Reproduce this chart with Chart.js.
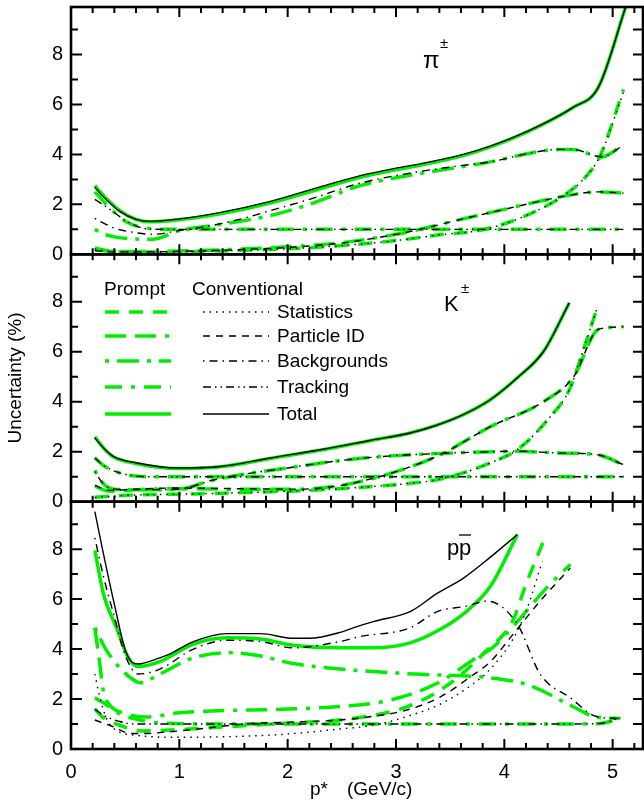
<!DOCTYPE html>
<html><head><meta charset="utf-8">
<script src="https://cdn.jsdelivr.net/npm/chart.js@4/dist/chart.umd.min.js"></script>
<style>html,body{margin:0;padding:0;background:#fff}#wrap{position:relative;width:644px;height:803px}</style>
</head><body><div id="wrap"><canvas id="c" width="644" height="803"></canvas></div>
<script>
// ---------- tick labels ----------
const xTickVals = [0, 1, 2, 3, 4, 5];
const yTickVals = [0, 2, 4, 6, 8];
const panelNames = ['π', 'K', 'p'];
const legendLabels = ['Statistics', 'Particle ID', 'Backgrounds', 'Tracking', 'Total'];

// ---------- panel 1 : pi ----------
const piStatX = [0.22,0.3,0.4,0.55,0.7,1.0,1.5,2.0,2.5,3.0,3.4,3.8,4.2,4.58,4.75,4.88,5.1];
const piStatConv = [0.22,0.15,0.11,0.09,0.08,0.1,0.15,0.22,0.35,0.55,0.78,0.98,1.55,2.45,3.1,3.9,6.5];
const piStatPrompt = [0.25,0.17,0.12,0.1,0.09,0.1,0.15,0.22,0.35,0.55,0.78,0.98,1.55,2.45,3.1,3.9,6.6];
const piPidX = [0.22,0.4,0.7,1.0,1.5,2.0,2.5,3.0,3.22,3.6,4.0,4.3,4.58,4.87,5.1];
const piPidConv = [0.15,0.1,0.1,0.12,0.18,0.28,0.45,0.8,1.0,1.4,1.8,2.1,2.35,2.5,2.45];
const piPidPrompt = [0.18,0.12,0.11,0.13,0.2,0.3,0.47,0.8,1.0,1.4,1.8,2.1,2.35,2.5,2.45];
const piBkgX = [0.22,0.3,0.4,0.55,0.75,1.0,1.3,1.6,1.84,2.2,2.67,3.2,3.6,3.87,4.26,4.5,4.63,4.9,5.1];
const piBkgConv = [1.44,1.25,1.05,0.9,0.8,0.95,1.15,1.45,1.75,2.2,2.85,3.3,3.55,3.7,4.07,4.2,4.2,3.9,4.37];
const piBkgPrompt = [1.0,0.82,0.7,0.62,0.6,0.95,1.15,1.35,1.55,2.0,2.75,3.22,3.5,3.7,4.07,4.2,4.2,3.9,4.4];
const piTrkX = [0.22,0.36,0.51,0.7,0.9,1.5,2.5,3.5,4.5,5.1];
const piTrkConv = [2.2,1.8,1.33,1.02,1.0,1.0,1.0,1.0,1.0,1.0];
const piTrkPrompt = [2.5,1.85,1.3,1.05,1.0,1.0,1.0,1.0,1.0,1.0];
const piTotX = [0.22,0.3,0.45,0.6,0.73,1.0,1.38,1.84,2.3,2.67,3.0,3.22,3.62,3.87,4.2,4.63,4.87,5.12];
const piTotConv = [2.68,2.3,1.72,1.4,1.32,1.42,1.68,2.12,2.7,3.15,3.45,3.62,4.0,4.33,4.9,5.87,6.7,9.9];
const piTotPrompt = [2.75,2.35,1.75,1.4,1.3,1.38,1.62,2.05,2.62,3.08,3.38,3.56,3.95,4.3,4.88,5.87,6.7,9.9];

// ---------- panel 2 : K ----------
const kStatX = [0.22,0.5,1.0,1.5,2.0,2.4,2.76,3.1,3.38,3.62,3.87,4.12,4.4,4.6,4.73,4.86];
const kStatConv = [0.16,0.25,0.3,0.35,0.42,0.5,0.6,0.72,0.88,1.15,1.55,2.08,3.28,4.48,6.08,7.8];
const kStatPrompt = [0.18,0.26,0.3,0.35,0.42,0.5,0.6,0.72,0.88,1.15,1.55,2.08,3.28,4.48,6.08,7.8];
const kPidX = [0.22,0.35,0.6,1.0,1.5,2.1,2.45,2.76,3.0,3.41,3.87,4.36,4.64,4.87,5.1];
const kPidConv = [0.65,0.45,0.5,0.55,0.52,0.5,0.62,0.9,1.2,1.88,3.0,4.0,5.0,6.9,7.0];
const kPidPrompt = [0.62,0.42,0.48,0.52,0.5,0.5,0.62,0.9,1.2,1.88,3.0,4.0,5.0,6.9,7.0];
const kBkgX = [0.22,0.3,0.4,0.6,0.8,1.0,1.3,1.6,2.0,2.4,2.85,3.4,3.9,4.12,4.5,4.86,5.1];
const kBkgConv = [1.2,0.7,0.5,0.48,0.48,0.5,0.85,1.1,1.35,1.6,1.8,1.93,2.0,2.02,1.95,1.88,1.48];
const kBkgPrompt = [1.25,0.72,0.5,0.48,0.48,0.5,0.85,1.1,1.35,1.6,1.8,1.93,2.0,2.02,1.95,1.88,1.48];
const kTrkX = [0.22,0.3,0.45,0.7,1.0,2.0,3.0,4.0,5.1];
const kTrkConv = [1.75,1.45,1.15,1.0,1.0,1.0,1.0,1.0,1.0];
const kTrkPrompt = [1.75,1.45,1.15,1.0,1.0,1.0,1.0,1.0,1.0];
const kTotX = [0.22,0.3,0.39,0.61,0.98,1.38,1.84,2.3,2.76,3.13,3.37,3.62,3.87,4.12,4.36,4.6];
const kTotConv = [2.55,2.15,1.81,1.55,1.35,1.41,1.75,2.08,2.45,2.75,3.05,3.48,4.08,4.96,6.0,7.96];
const kTotPrompt = [2.6,2.15,1.8,1.52,1.33,1.4,1.73,2.06,2.44,2.75,3.05,3.48,4.08,4.96,6.0,7.96];

// ---------- panel 3 : p pbar ----------
const pStatConvX = [0.22,0.27,0.33,0.4,0.6,1.0,1.5,2.0,2.48,2.79,3.1,3.41,3.71,3.87,4.08,4.2,4.35];
const pStatConv = [3.0,2.0,1.2,0.8,0.55,0.47,0.5,0.6,0.8,0.95,1.3,1.8,2.6,3.2,4.4,5.5,7.5];
const pStatPromptX = [0.22,0.3,0.45,0.65,1.0,1.28,2.05,2.48,3.1,3.5,3.81,4.08,4.2,4.36];
const pStatPrompt = [1.6,1.25,0.95,0.72,0.78,0.85,1.05,1.16,1.69,2.63,3.83,5.16,6.6,8.3];
const pPidConvX = [0.22,0.39,0.55,0.7,0.91,1.22,1.59,2.15,2.48,2.76,3.1,3.41,3.71,3.87,4.08,4.33,4.61];
const pPidConv = [1.16,0.89,0.62,0.62,0.69,0.82,1.0,1.09,1.16,1.29,1.56,2.09,2.96,3.49,4.59,5.92,7.25];
const pPidPromptX = [0.22,0.26,0.3,0.36,0.48,0.7,1.0,1.3,2.0,2.48,2.95,3.38,3.71,3.9,4.08,4.39,4.61];
const pPidPrompt = [4.85,3.6,2.3,1.75,1.45,1.28,1.45,1.52,1.6,1.7,1.96,2.63,3.56,4.09,4.9,6.45,7.39];
const pBkgConvX = [0.22,0.3,0.4,0.5,0.62,0.82,1.13,1.44,1.75,2.05,2.48,2.67,3.13,3.38,3.65,3.84,4.12,4.33,4.61,4.85,5.07];
const pBkgConv = [8.45,6.9,5.3,3.75,3.0,3.2,4.0,4.35,4.3,4.05,4.3,4.5,4.85,5.5,5.72,5.92,5.0,3.0,2.05,1.3,1.22];
const pBkgPromptX = [0.22,0.32,0.42,0.55,0.64,0.82,1.13,1.47,1.75,2.05,2.48,3.17,3.87,4.23,4.61,4.85,5.07];
const pBkgPrompt = [4.85,4.0,3.4,2.85,2.65,3.0,3.65,3.85,3.72,3.42,3.2,3.0,2.85,2.55,1.75,1.28,1.22];
const pTrkX = [0.22,0.3,0.45,0.6,0.8,1.5,2.5,3.5,4.5,4.88,5.07];
const pTrkConv = [1.6,1.35,1.1,1.0,1.0,1.0,1.0,1.0,1.0,1.02,1.25];
const pTrkPrompt = [2.05,1.85,1.4,1.2,1.05,1.0,1.0,1.0,1.0,1.02,1.22];
const pTotConvX = [0.22,0.3,0.4,0.51,0.62,0.82,0.91,1.13,1.44,1.75,2.05,2.2,2.51,2.64,2.79,3.13,3.38,3.62,3.84,4.12];
const pTotConv = [9.5,7.8,5.8,3.85,3.4,3.65,3.8,4.3,4.62,4.62,4.43,4.43,4.7,4.9,5.1,5.5,6.23,6.83,7.57,8.58];
const pTotPromptX = [0.22,0.3,0.42,0.53,0.62,0.82,1.13,1.44,1.75,2.05,2.48,2.79,3.13,3.38,3.62,3.87,4.12];
const pTotPrompt = [7.95,6.2,4.85,3.65,3.3,3.5,4.2,4.45,4.4,4.15,4.05,4.05,4.25,4.72,5.4,6.5,8.58];

// ---------- styles ----------
const GREEN = '#00ee00';
const DASH = {
  stat: {prompt: [14, 10], conv: [1.5, 5]},
  pid:  {prompt: [21, 9, 21, 9, 4, 9], conv: [7, 6]},
  bkg:  {prompt: [4, 8, 22, 8], conv: [1.5, 5, 8, 5]},
  trk:  {prompt: [17, 9, 4, 9], conv: [8, 4, 1.5, 4, 1.5, 4]},
  tot:  {prompt: [], conv: []}
};
const KINDS = ['stat', 'pid', 'bkg', 'trk', 'tot'];
const GW = 3.5, BW = 1.4;

function ds(xs, ys, axis, kind, prompt) {
  return {
    data: xs.map((x, i) => ({x: x, y: ys[i]})),
    yAxisID: axis,
    borderColor: prompt ? GREEN : '#000',
    borderWidth: prompt ? GW : BW,
    borderDash: DASH[kind][prompt ? 'prompt' : 'conv'],
    borderCapStyle: 'butt',
    pointRadius: 0, pointHoverRadius: 0,
    fill: false,
    cubicInterpolationMode: 'monotone',
    order: prompt ? 1 : 0
  };
}

const datasets = [
  ds(piStatX, piStatPrompt, 'y1', 'stat', true), ds(piPidX, piPidPrompt, 'y1', 'pid', true),
  ds(piBkgX, piBkgPrompt, 'y1', 'bkg', true), ds(piTrkX, piTrkPrompt, 'y1', 'trk', true),
  ds(piTotX, piTotPrompt, 'y1', 'tot', true),
  ds(piStatX, piStatConv, 'y1', 'stat', false), ds(piPidX, piPidConv, 'y1', 'pid', false),
  ds(piBkgX, piBkgConv, 'y1', 'bkg', false), ds(piTrkX, piTrkConv, 'y1', 'trk', false),
  ds(piTotX, piTotConv, 'y1', 'tot', false),

  ds(kStatX, kStatPrompt, 'y2', 'stat', true), ds(kPidX, kPidPrompt, 'y2', 'pid', true),
  ds(kBkgX, kBkgPrompt, 'y2', 'bkg', true), ds(kTrkX, kTrkPrompt, 'y2', 'trk', true),
  ds(kTotX, kTotPrompt, 'y2', 'tot', true),
  ds(kStatX, kStatConv, 'y2', 'stat', false), ds(kPidX, kPidConv, 'y2', 'pid', false),
  ds(kBkgX, kBkgConv, 'y2', 'bkg', false), ds(kTrkX, kTrkConv, 'y2', 'trk', false),
  ds(kTotX, kTotConv, 'y2', 'tot', false),

  ds(pStatPromptX, pStatPrompt, 'y3', 'stat', true), ds(pPidPromptX, pPidPrompt, 'y3', 'pid', true),
  ds(pBkgPromptX, pBkgPrompt, 'y3', 'bkg', true), ds(pTrkX, pTrkPrompt, 'y3', 'trk', true),
  ds(pTotPromptX, pTotPrompt, 'y3', 'tot', true),
  ds(pStatConvX, pStatConv, 'y3', 'stat', false), ds(pPidConvX, pPidConv, 'y3', 'pid', false),
  ds(pBkgConvX, pBkgConv, 'y3', 'bkg', false), ds(pTrkX, pTrkConv, 'y3', 'trk', false),
  ds(pTotConvX, pTotConv, 'y3', 'tot', false)
];

const FONT = "'Liberation Sans', Arial, Helvetica, sans-serif";

function yScale(weight) {
  return {
    type: 'linear', position: 'left', stack: 'panels', stackWeight: 1, weight: weight,
    min: 0, max: 9.9,
    grid: {display: false, drawTicks: false},
    border: {display: false},
    ticks: {color: '#000', font: {family: FONT, size: 20}, padding: 8},
    afterBuildTicks: s => { s.ticks = yTickVals.map(v => ({value: v})); },
    afterFit: s => { s.width = 71; s.paddingTop = 0; s.paddingBottom = 0; }
  };
}

const framePlugin = {
  id: 'frame',
  afterDraw(chart) {
    const ctx = chart.ctx, xs = chart.scales.x;
    const L = chart.chartArea.left, R = chart.chartArea.right;
    ctx.save();
    ctx.strokeStyle = '#000';
    ['y1', 'y2', 'y3'].forEach(id => {
      const s = chart.scales[id];
      const T = s.top, B = s.bottom;
      ctx.lineWidth = 2;
      ctx.beginPath();
      for (let i = 0; i <= 26; i++) {
        const px = xs.getPixelForValue(i / 5);
        const len = (i % 5 === 0) ? 10 : 6;
        ctx.moveTo(px, T); ctx.lineTo(px, T + len);
        ctx.moveTo(px, B); ctx.lineTo(px, B - len);
      }
      for (let v = 1; v <= 9; v++) {
        const py = s.getPixelForValue(v);
        const len = (v % 2 === 0) ? 11 : 7;
        ctx.moveTo(L, py); ctx.lineTo(L + len, py);
        ctx.moveTo(R, py); ctx.lineTo(R - 10, py);
      }
      ctx.stroke();
      ctx.lineWidth = 2.6;
      ctx.strokeRect(L, T, R - L, B - T);
    });
    ctx.restore();
  }
};

const textPlugin = {
  id: 'texts',
  afterDraw(chart) {
    const ctx = chart.ctx;
    ctx.save();
    ctx.fillStyle = '#000';
    // axis titles
    ctx.font = '19px ' + FONT;
    ctx.textBaseline = 'alphabetic';
    ctx.textAlign = 'left';
    ctx.fillText('p*', 310, 795);
    ctx.fillText('(GeV/c)', 347, 795);
    ctx.save();
    ctx.translate(21, 378);
    ctx.rotate(-Math.PI / 2);
    ctx.textAlign = 'center';
    ctx.fillText('Uncertainty (%)', 0, 0);
    ctx.restore();

    // panel labels
    ctx.textAlign = 'left';
    ctx.font = '24px ' + FONT;
    ctx.fillText(panelNames[0], 423, 68);
    ctx.font = '15px ' + FONT;
    ctx.fillText('±', 440, 48);
    ctx.font = '22px ' + FONT;
    ctx.fillText(panelNames[1], 444, 311);
    ctx.font = '15px ' + FONT;
    ctx.fillText('±', 461, 293);
    ctx.font = '22px ' + FONT;
    ctx.fillText(panelNames[2], 447, 555);
    ctx.fillText(panelNames[2], 459, 555);
    ctx.lineWidth = 1.3;
    ctx.beginPath(); ctx.moveTo(459, 535); ctx.lineTo(471, 535); ctx.stroke();

    // legend
    ctx.font = '19px ' + FONT;
    ctx.textBaseline = 'middle';
    ctx.fillText('Prompt', 104, 290);
    ctx.fillText('Conventional', 192, 290);
    const rows = [312, 336, 361, 387, 414];
    KINDS.forEach((k, i) => {
      const y = rows[i];
      ctx.save();
      ctx.lineCap = 'butt';
      ctx.strokeStyle = GREEN; ctx.lineWidth = GW; ctx.setLineDash(DASH[k].prompt);
      ctx.beginPath(); ctx.moveTo(105, y); ctx.lineTo(171, y); ctx.stroke();
      ctx.strokeStyle = '#000'; ctx.lineWidth = BW; ctx.setLineDash(DASH[k].conv);
      ctx.beginPath(); ctx.moveTo(203, y); ctx.lineTo(269, y); ctx.stroke();
      ctx.restore();
      ctx.fillText(legendLabels[i], 277, y + 1);
    });
    ctx.restore();
  }
};

new Chart(document.getElementById('c'), {
  type: 'line',
  data: {datasets: datasets},
  options: {
    responsive: false, animation: false, devicePixelRatio: 1,
    layout: {padding: {top: 7, right: 1, left: 0, bottom: 0}},
    plugins: {legend: {display: false}, tooltip: {enabled: false}},
    scales: {
      x: {
        type: 'linear', position: 'bottom', min: 0, max: 5.28,
        grid: {display: false, drawTicks: false}, border: {display: false},
        ticks: {color: '#000', font: {family: FONT, size: 20}, padding: 11, maxRotation: 0},
        afterBuildTicks: s => { s.ticks = xTickVals.map(v => ({value: v})); },
        afterFit: s => { s.height = 54; s.paddingLeft = 0; s.paddingRight = 0; }
      },
      y3: yScale(1),
      y2: yScale(2),
      y1: yScale(3)
    }
  },
  plugins: [framePlugin, textPlugin]
});
</script>
</body></html>
